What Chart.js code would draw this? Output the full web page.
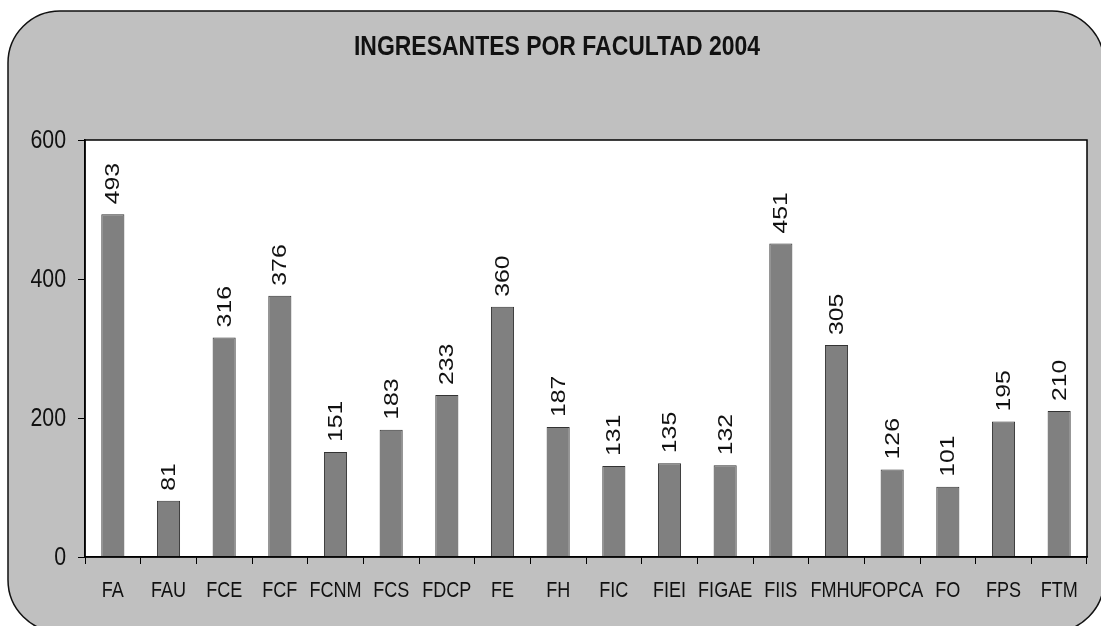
<!DOCTYPE html>
<html>
<head>
<meta charset="utf-8">
<script src="https://cdn.jsdelivr.net/npm/chart.js@4/dist/chart.umd.min.js"></script>
<style>
  html, body { margin: 0; padding: 0; background: #fff; }
  #wrap { width: 1101px; height: 626px; }
</style>
</head>
<body>
<div id="wrap"><canvas id="chart" width="1101" height="626"></canvas></div>
<script>
// Data
const faculties = ['FA', 'FAU', 'FCE', 'FCF', 'FCNM', 'FCS', 'FDCP', 'FE', 'FH', 'FIC',
    'FIEI', 'FIGAE', 'FIIS', 'FMHU', 'FOPCA', 'FO', 'FPS', 'FTM'];
const ingresantes = [493, 81, 316, 376, 151, 183, 233, 360, 187, 131,
    135, 132, 451, 305, 126, 101, 195, 210];
const yTicks = [0, 200, 400, 600];
const chartTitle = 'INGRESANTES POR FACULTAD 2004';

const sans = "'Liberation Sans', Arial, sans-serif";

// draw text squeezed horizontally (the original picture is stretched vertically)
function squeezedText(ctx, text, x, y, sx) {
    ctx.save();
    ctx.translate(x, y);
    ctx.scale(sx, 1);
    ctx.fillText(text, 0, 0);
    ctx.restore();
}

const panelPlugin = {
    id: 'panel',
    beforeDraw(chart) {
        const ctx = chart.ctx;
        const a = chart.chartArea;
        ctx.save();
        ctx.beginPath();
        ctx.roundRect(8, 11, 1096, 621, 52);
        ctx.fillStyle = '#c0c0c0';
        ctx.fill();
        ctx.lineWidth = 1.5;
        ctx.strokeStyle = '#111';
        ctx.stroke();
        ctx.fillStyle = '#ffffff';
        ctx.fillRect(a.left, a.top, a.right - a.left, a.bottom - a.top);
        ctx.restore();
    },
    afterDraw(chart) {
        const ctx = chart.ctx;
        const a = chart.chartArea;
        const xs = chart.scales.x, ys = chart.scales.y;
        ctx.save();
        ctx.strokeStyle = '#000';
        ctx.lineWidth = 1.5;
        ctx.strokeRect(a.left, a.top, a.right - a.left, a.bottom - a.top);

        ctx.fillStyle = '#111';
        ctx.textBaseline = 'middle';

        // title
        ctx.font = 'bold 28px ' + sans;
        ctx.textAlign = 'center';
        squeezedText(ctx, chartTitle, 557, 47, 0.82);

        // y tick labels
        ctx.font = '26px ' + sans;
        ctx.textAlign = 'right';
        ys.ticks.forEach((t, i) => {
            squeezedText(ctx, String(t.value), 66, ys.getPixelForTick(i) + 1, 0.82);
        });

        // x tick labels
        ctx.font = '22px ' + sans;
        ctx.textAlign = 'center';
        faculties.forEach((lab, i) => {
            squeezedText(ctx, lab, xs.getPixelForTick(i), 591, 0.82);
        });

        // rotated value labels
        const meta = chart.getDatasetMeta(0);
        ctx.font = '20px ' + sans;
        ctx.textAlign = 'left';
        meta.data.forEach((bar, i) => {
            ctx.save();
            ctx.translate(bar.x, bar.y - 10);
            ctx.rotate(-Math.PI / 2);
            ctx.scale(1.24, 1);
            ctx.fillText(String(ingresantes[i]), 0, 1);
            ctx.restore();
        });
        ctx.restore();
    }
};

const ctx = document.getElementById('chart').getContext('2d');
new Chart(ctx, {
    type: 'bar',
    data: {
        labels: faculties,
        datasets: [{
            data: ingresantes,
            backgroundColor: '#808080',
            borderColor: '#333333',
            borderWidth: 1,
            categoryPercentage: 1,
            barPercentage: 0.415
        }]
    },
    options: {
        responsive: false,
        animation: false,
        events: [],
        layout: {
            padding: { top: 140, left: 0, right: 14, bottom: 0 }
        },
        plugins: {
            legend: { display: false },
            tooltip: { enabled: false },
            title: { display: false }
        },
        scales: {
            x: {
                offset: true,
                grid: {
                    offset: true,
                    drawOnChartArea: false,
                    color: '#000',
                    tickLength: 7,
                    tickWidth: 1
                },
                border: { color: '#000', width: 1.5 },
                ticks: { display: false, autoSkip: false },
                afterFit(scale) { scale.height = 69; }
            },
            y: {
                min: 0,
                max: 600,
                afterBuildTicks(scale) {
                    scale.ticks = yTicks.map(v => ({ value: v }));
                },
                grid: {
                    drawOnChartArea: false,
                    color: '#000',
                    tickLength: 7,
                    tickWidth: 1
                },
                border: { color: '#000', width: 1.5 },
                ticks: { display: false },
                afterFit(scale) { scale.width = 85; }
            }
        }
    },
    plugins: [panelPlugin]
});
</script>
</body>
</html>
